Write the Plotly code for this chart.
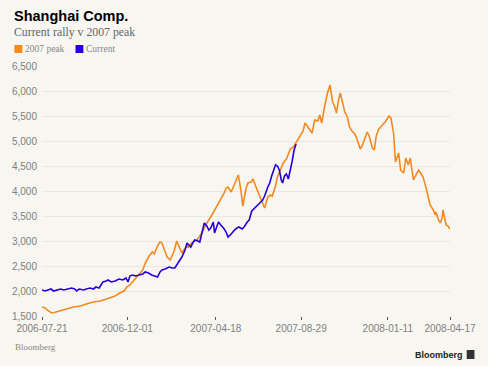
import pandas as pd
import plotly.graph_objects as go

start_date = "2006-07-21"

# 2007 peak series: days since start date, index level
peak_days = [0, 5, 8, 15, 22, 29, 38, 49, 60, 69, 80, 91, 100, 106, 114, 121, 128, 132, 137, 141,
             146, 151, 157, 161, 167, 172, 175, 180, 184, 187, 192, 195, 200, 206, 210, 215, 218, 221,
             226, 229, 233, 238, 243, 249, 257, 264, 269, 276, 284, 287, 290, 295, 300, 303, 306, 310,
             313, 318, 321, 326, 329, 333, 336, 339, 344, 347, 352, 356, 359, 364, 367, 372, 376, 381,
             387, 392, 396, 402, 407, 410, 415, 418, 421, 425, 430, 433, 436, 441, 445, 449, 452, 453,
             456, 459, 462, 465, 468, 472, 476, 479, 482, 487, 490, 493, 496, 499, 502, 507, 510, 515,
             518, 521, 525, 530, 535, 538, 541, 544, 547, 548, 551, 555, 556, 559, 564, 567, 571, 574,
             579, 582, 587, 590, 594, 599, 602, 605, 610, 613, 614, 618, 621, 624, 625, 628, 630, 633, 636]
peak_values = [1680, 1660, 1620, 1560, 1580, 1600, 1640, 1680, 1700, 1740, 1780, 1800, 1840, 1860, 1900,
               1960, 2000, 2080, 2120, 2180, 2260, 2320, 2420, 2560, 2700, 2780, 2740, 2900, 2980, 2960,
               2760, 2680, 2620, 2800, 3000, 2840, 2760, 2820, 2900, 2880, 2960, 3000, 3040, 3160, 3360,
               3500, 3620, 3760, 3960, 4060, 4080, 3980, 4150, 4220, 4320, 4020, 3700, 4050, 4160, 4180,
               4240, 4100, 4000, 3900, 3760, 3660, 3880, 3920, 3900, 4100, 4280, 4460, 4560, 4640, 4840,
               4880, 4960, 5100, 5200, 5360, 5260, 5200, 5160, 5420, 5400, 5520, 5360, 5720, 5960, 6120,
               5900, 5780, 5700, 5560, 5800, 5960, 5800, 5580, 5480, 5300, 5220, 5150, 5080, 4950, 4840,
               4900, 5000, 5180, 5100, 4860, 4820, 5100, 5240, 5300, 5380, 5440, 5500, 5460, 5250, 5160,
               4580, 4700, 4760, 4420, 4360, 4660, 4520, 4660, 4220, 4300, 4420, 4360, 4280, 4050, 3900,
               3720, 3620, 3520, 3580, 3420, 3360, 3480, 3620, 3420, 3320, 3300, 3240]

# Current rally series, aligned on the same axis
current_days = [0, 5, 9, 14, 18, 23, 29, 34, 40, 46, 51, 54, 58, 65, 69, 75, 80, 84, 89, 95, 100, 103,
                108, 114, 120, 126, 131, 134, 137, 141, 146, 152, 157, 161, 166, 171, 175, 180, 184, 187,
                192, 198, 203, 207, 212, 218, 223, 226, 229, 232, 235, 238, 243, 246, 250, 253, 257, 260,
                263, 267, 269, 272, 275, 280, 283, 287, 290, 295, 300, 304, 307, 312, 315, 320, 323, 327,
                332, 336, 341, 344, 347, 352, 355, 358, 361, 364, 367, 370, 373, 375, 378, 381, 384, 387,
                390, 393, 396]
current_values = [2020, 2000, 2020, 2040, 2000, 2020, 2040, 2020, 2040, 2060, 2040, 2000, 2040, 2020,
                  2040, 2060, 2040, 2080, 2060, 2180, 2200, 2220, 2180, 2200, 2240, 2220, 2260, 2180,
                  2300, 2320, 2300, 2320, 2340, 2380, 2360, 2320, 2300, 2280, 2380, 2420, 2440, 2480,
                  2460, 2460, 2560, 2680, 2820, 2960, 2920, 2880, 2960, 3020, 3000, 2980, 3200, 3360,
                  3300, 3220, 3260, 3380, 3160, 3280, 3380, 3300, 3260, 3180, 3080, 3140, 3220, 3260,
                  3280, 3240, 3280, 3380, 3420, 3600, 3660, 3700, 3780, 3820, 3900, 4080, 4160, 4300,
                  4400, 4520, 4500, 4420, 4220, 4160, 4300, 4340, 4240, 4400, 4600, 4820, 4940]

x_tick_labels = ["2006-07-21", "2006-12-01", "2007-04-18", "2007-08-29", "2008-01-11", "2008-04-17"]
y_tick_values = [1500, 2000, 2500, 3000, 3500, 4000, 4500, 5000, 5500, 6000, 6500]

ORANGE = "#f5891f"
BLUE = "#2600dc"
BG = "#f7f6f1"

t0 = pd.Timestamp(start_date)
peak_dates = [t0 + pd.Timedelta(days=d) for d in peak_days]
current_dates = [t0 + pd.Timedelta(days=d) for d in current_days]

fig = go.Figure()
fig.add_trace(go.Scatter(x=peak_dates, y=peak_values, mode="lines", name="2007 peak",
                         line=dict(color=ORANGE, width=1.6)))
fig.add_trace(go.Scatter(x=current_dates, y=current_values, mode="lines", name="Current",
                         line=dict(color=BLUE, width=1.6)))

fig.update_layout(
    width=488, height=366,
    paper_bgcolor=BG, plot_bgcolor=BG,
    margin=dict(l=38, r=36, t=66, b=50),
    showlegend=False,
    font=dict(family="Liberation Sans, Arial, sans-serif", size=10, color="#808080"),
)
fig.update_xaxes(
    type="date",
    range=[pd.Timestamp(x_tick_labels[0]), pd.Timestamp(x_tick_labels[-1])],
    tickvals=[pd.Timestamp(s) for s in x_tick_labels],
    ticktext=x_tick_labels,
    showgrid=False, zeroline=False, showline=False,
    ticks="outside", ticklen=3, tickcolor="#555555", tickwidth=1,
    tickfont=dict(size=10, color="#808080"),
)
fig.update_yaxes(
    range=[1500, 6500],
    tickvals=y_tick_values,
    tickformat=",",
    showgrid=True, gridcolor="#eae8e1", gridwidth=1,
    zeroline=False, showline=False, ticks="",
    ticklabelstandoff=4,
    tickfont=dict(size=10, color="#808080"),
)

SERIF = "Liberation Serif, DejaVu Serif, serif"
SANS = "Liberation Sans, Arial, sans-serif"

# Title, subtitle
fig.add_annotation(text="<b>Shanghai Comp.</b>", xref="paper", yref="paper", x=-0.0725, y=1.0,
                   xanchor="left", yanchor="bottom", yshift=40, showarrow=False,
                   font=dict(family=SANS, size=14.5, color="#000000"))
fig.add_annotation(text="Current rally v 2007 peak", xref="paper", yref="paper", x=-0.0725, y=1.0,
                   xanchor="left", yanchor="bottom", yshift=25, showarrow=False,
                   font=dict(family=SERIF, size=11.8, color="#666666"))
# Legend
fig.add_shape(type="rect", xref="paper", yref="paper", x0=-0.0676, x1=-0.0483, y0=1.052, y1=1.084,
              fillcolor=ORANGE, line=dict(width=0))
fig.add_annotation(text="2007 peak", xref="paper", yref="paper", x=-0.046, y=1.068,
                   xanchor="left", yanchor="middle", showarrow=False,
                   font=dict(family=SERIF, size=9.5, color="#888888"))
fig.add_shape(type="rect", xref="paper", yref="paper", x0=0.0821, x1=0.1014, y0=1.052, y1=1.084,
              fillcolor=BLUE, line=dict(width=0))
fig.add_annotation(text="Current", xref="paper", yref="paper", x=0.104, y=1.068,
                   xanchor="left", yanchor="middle", showarrow=False,
                   font=dict(family=SERIF, size=9.5, color="#888888"))
# Source and logo
fig.add_annotation(text="Bloomberg", xref="paper", yref="paper", x=-0.07, y=-0.124,
                   xanchor="left", yanchor="middle", showarrow=False,
                   font=dict(family=SERIF, size=9, color="#888888"))
fig.add_annotation(text="<b>Bloomberg</b>", xref="paper", yref="paper", x=1.036, y=-0.156,
                   xanchor="right", yanchor="middle", showarrow=False,
                   font=dict(family=SANS, size=9, color="#222222"))
fig.add_shape(type="rect", xref="paper", yref="paper", x0=1.041, x1=1.060, y0=-0.172, y1=-0.136,
              fillcolor="#333333", line=dict(width=0))

fig.write_html("out.html", config={"displayModeBar": False},
               post_script="document.body.style.margin='0';")
